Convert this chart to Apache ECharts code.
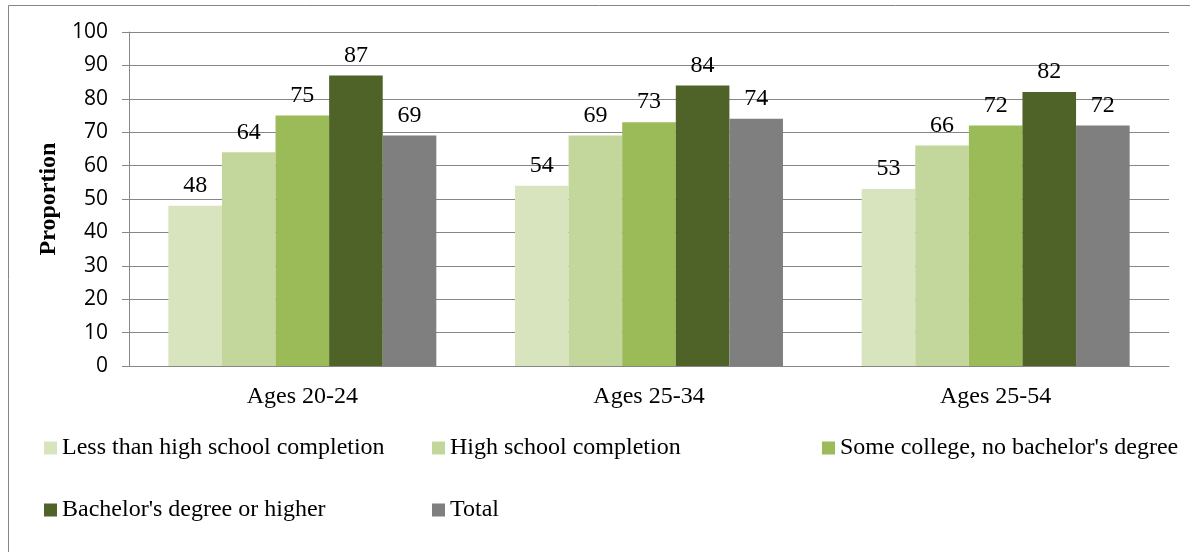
<!DOCTYPE html>
<html>
<head>
<meta charset="utf-8">
<script src="https://cdn.jsdelivr.net/npm/echarts@6/dist/echarts.min.js"></script>
<style>
  html, body { margin: 0; padding: 0; background: #fff; }
  #chart { width: 1190px; height: 552px; }
</style>
</head>
<body>
<div id="chart"></div>
<script>
// categories and values
const categories = ['Ages 20-24', 'Ages 25-34', 'Ages 25-54'];
const seriesNames = [
    'Less than high school completion',
    'High school completion',
    'Some college, no bachelor\'s degree',
    'Bachelor\'s degree or higher',
    'Total'
];
const lessThanHighSchool = [48, 54, 53];
const highSchool = [64, 69, 66];
const someCollege = [75, 73, 72];
const bachelors = [87, 84, 82];
const total = [69, 74, 72];
const yTicks = [0, 100, 10]; // min, max, interval

const colors = ['#D7E4BD', '#C3D69B', '#9BBB59', '#4F6228', '#7F7F7F'];
const values = [lessThanHighSchool, highSchool, someCollege, bachelors, total];

const serif = '"Liberation Serif", "DejaVu Serif", serif';

// legend positions (two rows, like the original)
const legendPos = [
    { left: 44, top: 436 },
    { left: 432, top: 436 },
    { left: 822, top: 436 },
    { left: 44, top: 498 },
    { left: 432, top: 498 }
];

const chart = echarts.init(document.getElementById('chart'));
chart.setOption({
    animation: false,
    color: colors,
    graphic: [{
        type: 'rect',
        shape: { x: 8.5, y: 5.5, width: 1200, height: 560 },
        style: { fill: 'none', stroke: '#868686', lineWidth: 1 },
        silent: true
    }],
    grid: { left: 129, right: 21, top: 32, bottom: 186, containLabel: false },
    legend: legendPos.map((p, i) => ({
        data: [seriesNames[i]],
        left: p.left,
        top: p.top,
        icon: 'rect',
        itemWidth: 13,
        itemHeight: 13,
        itemGap: 0,
        padding: 0,
        textStyle: { fontFamily: serif, fontSize: 24, color: '#000' }
    })),
    xAxis: {
        type: 'category',
        data: categories,
        axisLine: { lineStyle: { color: '#868686' } },
        axisTick: { show: false },
        axisLabel: { fontFamily: serif, fontSize: 24, color: '#000', margin: 19 }
    },
    yAxis: {
        type: 'value',
        min: yTicks[0],
        max: yTicks[1],
        interval: yTicks[2],
        name: 'Proportion',
        nameLocation: 'middle',
        nameGap: 65,
        nameTextStyle: { fontFamily: serif, fontSize: 24, fontWeight: 'bold', color: '#000' },
        axisLine: { show: true, lineStyle: { color: '#868686' } },
        axisTick: { show: true, length: 7, lineStyle: { color: '#868686' } },
        axisLabel: { fontFamily: '"Open Sans", "Liberation Sans", sans-serif', fontSize: 21, color: '#000', margin: 21 },
        splitLine: { lineStyle: { color: '#868686' } }
    },
    series: values.map((v, i) => ({
        name: seriesNames[i],
        type: 'bar',
        data: v,
        barGap: '0%',
        barCategoryGap: '22.7%',
        label: {
            show: true,
            position: 'top',
            distance: 8,
            fontFamily: serif,
            fontSize: 24,
            color: '#000'
        }
    }))
});
</script>
</body>
</html>
